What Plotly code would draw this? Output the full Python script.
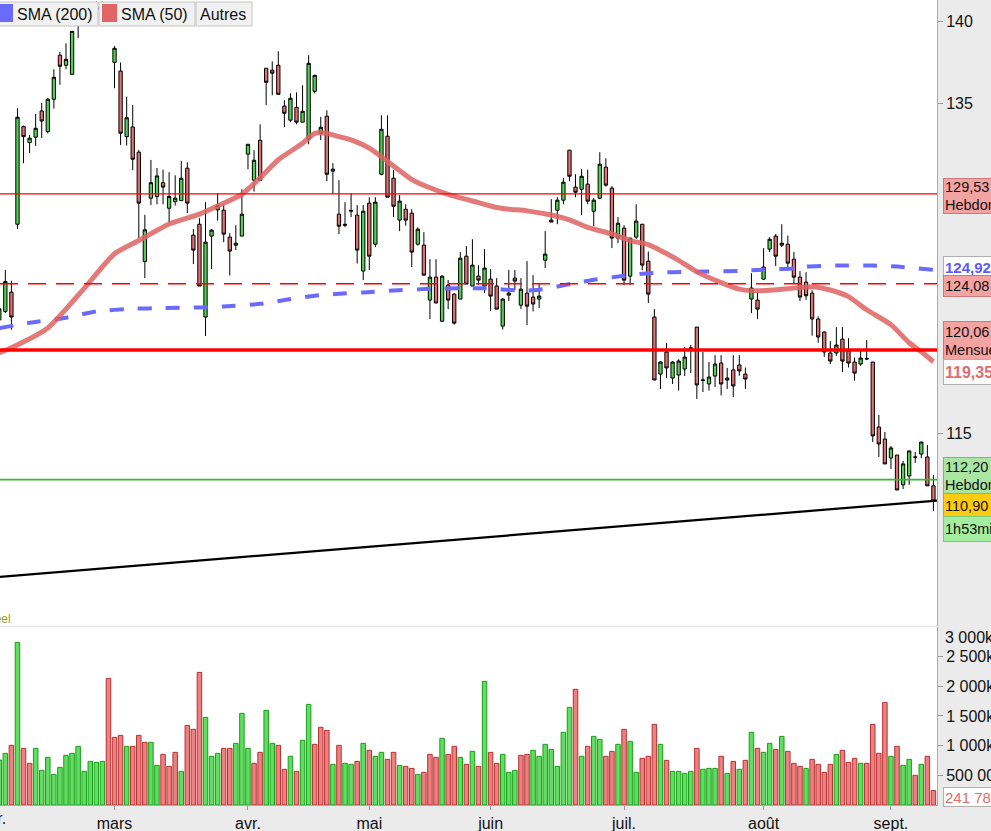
import plotly.graph_objects as go

# ---------------- data ----------------
opens = [121.89, 122.40, 123.57, 127.69, 133.61, 132.64, 132.97, 134.56, 133.31, 135.27,
         137.94, 137.33, 136.78, 139.80, 140.20, 140.50, 140.70, 140.80, 140.90, 137.51,
         136.98, 133.00, 133.59, 132.06, 125.43, 129.27, 129.37, 130.21, 128.66, 129.06,
         129.12, 131.09, 127.03, 127.69, 122.06, 126.97, 128.56, 128.54, 126.91, 126.42,
         126.97, 131.94, 130.36, 132.78, 137.15, 137.03, 137.33, 134.85, 134.00, 134.78,
         133.88, 132.85, 135.75, 133.21, 134.24, 130.91, 128.30, 127.62, 128.48, 128.24,
         124.85, 128.97, 126.48, 130.72, 133.03, 130.48, 127.94, 128.60, 128.36, 126.48,
         126.42, 123.09, 124.48, 121.81, 124.00, 123.45, 123.15, 125.75, 123.94, 124.54,
         123.94, 124.36, 123.94, 121.51, 123.39, 124.42, 122.78, 123.51, 123.27, 123.15,
         125.51, 127.94, 128.54, 129.15, 132.18, 129.94, 129.81, 130.12, 128.48, 129.27,
         131.15, 129.88, 126.85, 127.45, 124.54, 126.91, 127.69, 125.45, 122.06, 118.60,
         119.94, 118.36, 118.54, 118.91, 120.16, 121.45, 118.22, 118.00, 118.48, 119.27,
         118.24, 118.85, 119.15, 118.60, 123.15, 123.09, 124.36, 126.18, 126.97, 126.42,
         126.48, 125.57, 124.48, 124.18, 123.51, 121.94, 121.15, 119.88, 119.88, 120.72,
         120.00, 119.33, 119.21, 119.55, 119.33, 115.39, 114.66, 113.51, 113.69, 111.88,
         112.42, 113.55, 113.75, 113.57, 111.82]
highs = [122.70, 124.92, 124.26, 134.72, 133.67, 133.11, 134.38, 135.05, 135.35, 137.09,
         138.14, 138.66, 139.40, 140.50, 140.90, 141.00, 141.20, 141.20, 141.10, 138.50,
         137.50, 135.43, 134.92, 132.20, 128.26, 131.59, 131.10, 131.00, 130.85, 130.66,
         131.53, 131.45, 127.39, 128.06, 129.03, 127.39, 129.57, 128.90, 127.15, 127.63,
         129.81, 132.54, 132.18, 133.75, 137.15, 137.57, 138.18, 135.21, 135.63, 135.69,
         136.12, 137.94, 136.76, 134.20, 134.60, 131.39, 130.36, 129.03, 129.57, 128.85,
         128.85, 129.33, 129.33, 134.30, 134.30, 130.97, 129.45, 128.90, 128.60, 127.50,
         127.21, 125.57, 125.57, 124.60, 124.30, 123.50, 126.00, 126.36, 126.78, 125.20,
         126.18, 124.97, 124.42, 123.20, 124.91, 124.91, 124.42, 125.45, 124.60, 124.06,
         127.27, 129.21, 129.33, 130.50, 132.20, 130.72, 131.03, 131.00, 129.27, 132.06,
         131.69, 130.00, 128.12, 127.63, 126.85, 128.90, 127.70, 126.03, 122.54, 119.39,
         120.48, 119.40, 119.50, 120.24, 120.36, 121.45, 119.94, 119.33, 119.75, 119.75,
         118.97, 119.75, 119.75, 119.00, 124.72, 123.60, 126.24, 126.90, 127.09, 127.69,
         127.00, 126.00, 124.85, 124.78, 123.69, 122.10, 121.20, 120.60, 121.45, 121.45,
         120.78, 119.60, 120.00, 120.66, 119.33, 116.12, 115.09, 114.24, 113.69, 113.33,
         113.94, 113.88, 114.48, 114.30, 112.48]
lows = [121.70, 122.30, 121.29, 127.41, 131.39, 132.00, 132.44, 132.92, 133.20, 134.70,
        136.15, 137.09, 136.75, 138.97, 139.90, 140.10, 140.30, 140.40, 139.85, 135.94,
        132.50, 132.46, 130.98, 126.86, 124.42, 128.86, 128.90, 128.90, 127.75, 128.82,
        129.12, 128.36, 125.27, 123.94, 120.91, 124.97, 127.91, 126.60, 124.58, 126.12,
        126.97, 131.03, 129.67, 130.36, 134.91, 135.51, 135.57, 133.57, 133.88, 133.75,
        133.88, 132.54, 135.63, 132.80, 130.30, 129.51, 127.09, 127.51, 128.12, 125.31,
        124.30, 124.91, 126.30, 130.66, 129.33, 128.12, 127.27, 127.60, 125.09, 126.40,
        124.60, 121.94, 122.91, 121.75, 122.54, 121.60, 123.15, 124.06, 123.94, 124.00,
        123.51, 122.42, 122.54, 121.30, 123.03, 123.70, 122.54, 121.57, 122.40, 122.60,
        125.03, 127.82, 127.69, 128.90, 130.30, 129.33, 128.24, 128.90, 127.57, 129.21,
        129.97, 126.24, 126.54, 124.00, 124.00, 126.80, 124.90, 122.91, 118.24, 117.69,
        118.36, 118.00, 117.60, 118.48, 118.66, 117.09, 117.51, 117.60, 117.82, 117.30,
        117.70, 117.21, 118.50, 117.70, 122.30, 121.94, 124.30, 126.00, 125.15, 126.30,
        125.00, 124.10, 123.03, 123.10, 120.93, 120.50, 119.65, 119.20, 119.70, 118.72,
        119.00, 118.20, 119.10, 119.45, 114.48, 113.57, 113.15, 112.85, 111.57, 111.63,
        111.88, 113.21, 113.50, 111.82, 110.30]
closes = [122.56, 124.21, 122.06, 134.18, 133.00, 132.91, 133.51, 133.95, 135.27, 136.60,
          137.27, 137.69, 139.39, 140.20, 140.50, 140.70, 140.90, 141.00, 139.90, 138.36,
          133.21, 134.15, 131.63, 128.97, 127.35, 130.21, 130.62, 129.94, 129.37, 129.27,
          130.48, 128.97, 126.12, 123.94, 126.60, 127.33, 128.82, 127.09, 126.06, 126.54,
          128.30, 132.54, 131.57, 130.36, 136.30, 136.85, 135.57, 134.42, 135.33, 133.88,
          134.54, 137.45, 136.72, 133.57, 130.72, 131.03, 127.57, 127.68, 128.52, 126.12,
          128.48, 125.75, 129.03, 133.45, 129.33, 128.78, 129.09, 127.94, 126.00, 127.39,
          124.60, 124.48, 122.91, 124.54, 123.09, 121.69, 125.63, 124.06, 125.21, 124.30,
          125.03, 123.33, 122.54, 123.15, 123.51, 124.24, 123.75, 122.72, 122.85, 123.33,
          125.88, 127.82, 129.15, 130.24, 130.60, 129.63, 130.60, 129.09, 129.15, 131.33,
          130.06, 126.85, 127.75, 124.30, 126.85, 127.88, 125.21, 123.45, 118.24, 119.33,
          118.97, 119.33, 119.39, 119.63, 120.18, 117.94, 118.24, 118.42, 119.21, 118.00,
          118.36, 117.88, 118.79, 118.30, 123.82, 122.54, 125.09, 126.78, 125.75, 126.54,
          125.33, 124.48, 123.27, 123.35, 121.94, 120.85, 119.94, 119.39, 120.36, 119.39,
          119.27, 118.66, 119.57, 119.52, 114.85, 114.36, 113.15, 114.12, 111.57, 113.15,
          113.94, 113.57, 114.48, 111.82, 110.90]
volumes_k = [758, 870, 1005, 2739, 954, 702, 954, 584, 803, 516,
             634, 836, 870, 988, 567, 735, 718, 735, 2133, 1139,
             1173, 988, 988, 1173, 1055, 1055, 668, 853, 651, 887,
             567, 1341, 1274, 2234, 1476, 820, 870, 954, 954, 1038,
             1544, 954, 702, 887, 1594, 1038, 1005, 601, 820, 567,
             1089, 1695, 1022, 1308, 1257, 685, 1005, 702, 685, 735,
             1038, 921, 820, 887, 769, 887, 668, 651, 617, 516,
             550, 853, 803, 1123, 853, 988, 803, 685, 904, 651,
             2082, 887, 702, 853, 550, 584, 836, 853, 921, 820,
             1022, 937, 651, 1224, 1645, 1948, 820, 988, 1156, 1106,
             820, 904, 1022, 1274, 1072, 550, 786, 820, 1358, 1022,
             752, 567, 567, 533, 567, 954, 601, 617, 617, 820,
             533, 735, 601, 752, 1224, 954, 887, 1038, 937, 1156,
             904, 702, 651, 617, 769, 685, 550, 685, 853, 921,
             718, 786, 702, 702, 1358, 870, 1729, 820, 988, 668,
             769, 500, 685, 820, 241.78]
day_index = list(range(len(closes)))

month_tick_index = [19, 41, 61, 81, 103, 126, 147]
month_labels = ["mars", "avr.", "mai", "juin", "juil.", "août", "sept."]

sma50_index = [0, 2, 8, 14, 19, 23, 28, 33, 36, 40, 43, 46, 50, 52, 54, 56, 58, 61, 64, 68,
               71, 74, 78, 82, 84, 87, 91, 94, 97, 101, 104, 107, 109, 112, 115, 119, 122,
               125, 129, 132, 134, 137, 140, 143, 147, 150, 152, 154]
sma50_values = [119.9, 120.2, 121.4, 123.8, 125.9, 126.7, 127.7, 128.3, 128.8, 129.5, 130.5,
                131.6, 132.6, 133.2, 133.2, 133.0, 132.8, 132.3, 131.5, 130.4, 129.9, 129.5,
                129.1, 128.7, 128.6, 128.5, 128.25, 127.95, 127.5, 127.1, 126.7, 126.45,
                126.1, 125.5, 124.8, 124.15, 123.75, 123.65, 123.75, 123.85, 123.9, 123.7,
                123.3, 122.5, 121.6, 120.5, 119.95, 119.35]
sma200_index = [0, 5, 11, 16, 22, 27, 33, 37, 43, 48, 52, 56, 60, 65, 71, 76, 80, 86, 89, 92,
                95, 98, 103, 107, 111, 116, 122, 125, 129, 131, 133, 138, 144, 148, 154]
sma200_values = [121.39, 121.71, 122.02, 122.40, 122.56, 122.60, 122.64, 122.70, 122.86,
                 123.15, 123.35, 123.47, 123.55, 123.67, 123.77, 123.81, 123.80, 123.67,
                 123.71, 123.91, 124.12, 124.32, 124.56, 124.72, 124.78, 124.82, 124.86,
                 124.92, 124.97, 125.00, 125.12, 125.18, 125.18, 125.12, 124.92]

weekly_resistance = 129.53
dashed_level = 124.08
monthly_level = 120.06
weekly_support = 112.20
trend_index = [0, 154.6]
trend_price = [106.30, 110.93]

price_ticks = [115, 135, 140]
volume_ticks = [500, 1000, 1500, 2000, 2500]
volume_ticktext = ["500 000", "1 000k", "1 500k", "2 000k", "2 500k"]

# ---------------- layout geometry ----------------
W, H = 991, 831
MR, MB = 54, 26
PW, PH = W - MR, H - MB


def ypaper(py):
    return (PH - py) / PH


def xpaper(px):
    return px / PW


FONT = "Liberation Sans, Arial, sans-serif"
GREEN = "#4fd24f"
RED = "#e27070"
PINK_TAG = "#f4a3a3"


def fr(v, d=2):
    return f"{v:.{d}f}".replace(".", ",")


vol_up = [True] + [closes[i] >= closes[i - 1] for i in range(1, len(closes))]
vol_fill = ["#5ee05e" if u else "#f08080" for u in vol_up]
vol_edge = ["#1d9a1d" if u else "#b23232" for u in vol_up]

fig = go.Figure()
fig.add_trace(go.Candlestick(
    x=day_index, open=opens, high=highs, low=lows, close=closes,
    increasing=dict(fillcolor=GREEN, line=dict(color="black", width=1)),
    decreasing=dict(fillcolor=RED, line=dict(color="black", width=1)),
    whiskerwidth=0, xaxis="x", yaxis="y", showlegend=False, hoverinfo="skip"))
fig.add_trace(go.Scatter(
    x=sma200_index, y=sma200_values, mode="lines", yaxis="y",
    line=dict(color="#6a6aff", width=4, dash="14px,14px", shape="spline", smoothing=0.6),
    showlegend=False, hoverinfo="skip"))
fig.add_trace(go.Scatter(
    x=sma50_index, y=sma50_values, mode="lines", yaxis="y",
    line=dict(color="rgba(222,98,98,0.85)", width=5, shape="spline", smoothing=0.6),
    showlegend=False, hoverinfo="skip"))
fig.add_trace(go.Bar(
    x=day_index, y=volumes_k, yaxis="y2",
    marker=dict(color=vol_fill, line=dict(color=vol_edge, width=1)),
    showlegend=False, hoverinfo="skip"))

shapes = []


def hline(level, color, width, dash="solid"):
    shapes.append(dict(type="line", xref="x domain", x0=0, x1=1, yref="y", y0=level, y1=level,
                       line=dict(color=color, width=width, dash=dash), layer="above"))


hline(weekly_resistance, "#ff0000", 1.2)
hline(dashed_level, "#ff0000", 1.5, "18px,10px")
hline(monthly_level, "#ff0000", 3.5)
hline(weekly_support, "#33b833", 1.6)
shapes.append(dict(type="line", xref="x", yref="y", x0=trend_index[0], x1=trend_index[1],
                   y0=trend_price[0], y1=trend_price[1],
                   line=dict(color="black", width=2.2), layer="above"))

# legend boxes (top-left)
for x0, x1 in [(-3, 98), (99, 195), (196, 252)]:
    shapes.append(dict(type="rect", xref="paper", yref="paper", x0=xpaper(x0), x1=xpaper(x1),
                       y0=ypaper(26), y1=ypaper(2), fillcolor="#f1f1f1",
                       line=dict(color="#c4c4c4", width=1), layer="above"))
shapes.append(dict(type="rect", xref="paper", yref="paper", x0=xpaper(-2), x1=xpaper(13),
                   y0=ypaper(22), y1=ypaper(4), fillcolor="#6a6aff", line=dict(width=0), layer="above"))
shapes.append(dict(type="rect", xref="paper", yref="paper", x0=xpaper(102), x1=xpaper(117),
                   y0=ypaper(22), y1=ypaper(4), fillcolor="#e06666", line=dict(width=0), layer="above"))

ann = []
for x, t in [(15, "SMA (200)"), (119, "SMA (50)"), (198, "Autres")]:
    ann.append(dict(xref="paper", yref="paper", x=xpaper(x), y=ypaper(14), xanchor="left",
                    yanchor="middle", text=t, showarrow=False,
                    font=dict(family=FONT, size=16, color="#111")))


def tag(text, center_px, height, bg, border, color="#111", bold=False, size=14.5):
    t = f"<b>{text}</b>" if bold else text
    ann.append(dict(xref="paper", yref="paper", x=1, xshift=6, y=ypaper(center_px),
                    xanchor="left", yanchor="middle", text=t, showarrow=False,
                    align="left", valign="middle", width=64, height=height,
                    bgcolor=bg, bordercolor=border, borderwidth=1, borderpad=1,
                    font=dict(family=FONT, size=size, color=color)))


tag(fr(weekly_resistance) + "<br>Hebdomadaire", 196, 32, PINK_TAG, "#c97a7a")
tag(fr(sma200_values[-1]), 267, 18, "#ffffff", "#b0b0b0", "#5a5aff", True, 15)
tag(fr(dashed_level), 286, 18, PINK_TAG, "#c97a7a")
tag(fr(monthly_level) + "<br>Mensuel", 341, 36, PINK_TAG, "#c97a7a")
tag(fr(sma50_values[-1]), 372, 22, "#ffffff", "#b0b0b0", "#e06c6c", True, 16)
tag(fr(weekly_support) + "<br>Hebdomadaire", 476, 34, "#a9e6a2", "#79b879")
tag(fr(closes[-1]), 506, 22, "#ffcb10", "#d4a400")
tag("1h53min", 529, 22, "#a4eea0", "#7cc87c")
tag(f"{int(round(volumes_k[-1] * 1000)):,}".replace(",", " "), 797, 16, "#ffffff", "#b0b0b0",
    "#e06c6c", False, 15)

ann.append(dict(xref="paper", yref="paper", x=1, xshift=6, y=ypaper(637), xanchor="left",
                yanchor="middle", text="3 000k", showarrow=False,
                font=dict(family=FONT, size=16, color="#111")))
ann.append(dict(xref="paper", yref="paper", x=0, xshift=13, y=ypaper(619), xanchor="right",
                yanchor="middle", text="Temps réel", showarrow=False,
                font=dict(family=FONT, size=12, color="#9c9c1c")))
ann.append(dict(xref="paper", yref="paper", x=0, xshift=8, y=-(818 - PH) / PH, xanchor="right",
                yanchor="middle", text="févr.", showarrow=False,
                font=dict(family=FONT, size=16, color="#111")))

fig.update_layout(
    template="none",
    width=W, height=H, margin=dict(l=0, r=MR, t=0, b=MB, pad=0, autoexpand=False),
    paper_bgcolor="#ebebeb", plot_bgcolor="#ffffff",
    bargap=0.26, boxgap=0.22, showlegend=False,
    shapes=shapes, annotations=ann,
    xaxis=dict(range=[0.12, 154.59], anchor="y2", domain=[0, 1], automargin=False,
               tickvals=month_tick_index, ticktext=month_labels,
               ticks="outside", ticklen=4, tickcolor="#999999",
               showline=True, linecolor="#aaaaaa", showgrid=False, zeroline=False,
               rangeslider=dict(visible=False),
               tickfont=dict(family=FONT, size=16, color="#111")),
    yaxis=dict(domain=[ypaper(625.5), 1], range=[103.35, 141.29], side="right", anchor="x",
               automargin=False,
               tickvals=price_ticks, ticktext=[str(v) for v in price_ticks],
               ticks="outside", ticklen=5, tickcolor="#999999",
               showline=True, linecolor="#aaaaaa", showgrid=False, zeroline=False,
               tickfont=dict(family=FONT, size=16, color="#111")),
    yaxis2=dict(domain=[0, ypaper(627)], range=[0, 2998], side="right", anchor="x",
                automargin=False,
                tickvals=volume_ticks, ticktext=volume_ticktext,
                ticks="outside", ticklen=5, tickcolor="#999999",
                showline=True, linecolor="#aaaaaa", showgrid=False, zeroline=False,
                tickfont=dict(family=FONT, size=16, color="#111")),
)

fig.write_html("out.html", config={"displayModeBar": False},
               post_script="document.body.style.margin='0px';document.body.style.overflow='hidden';")
